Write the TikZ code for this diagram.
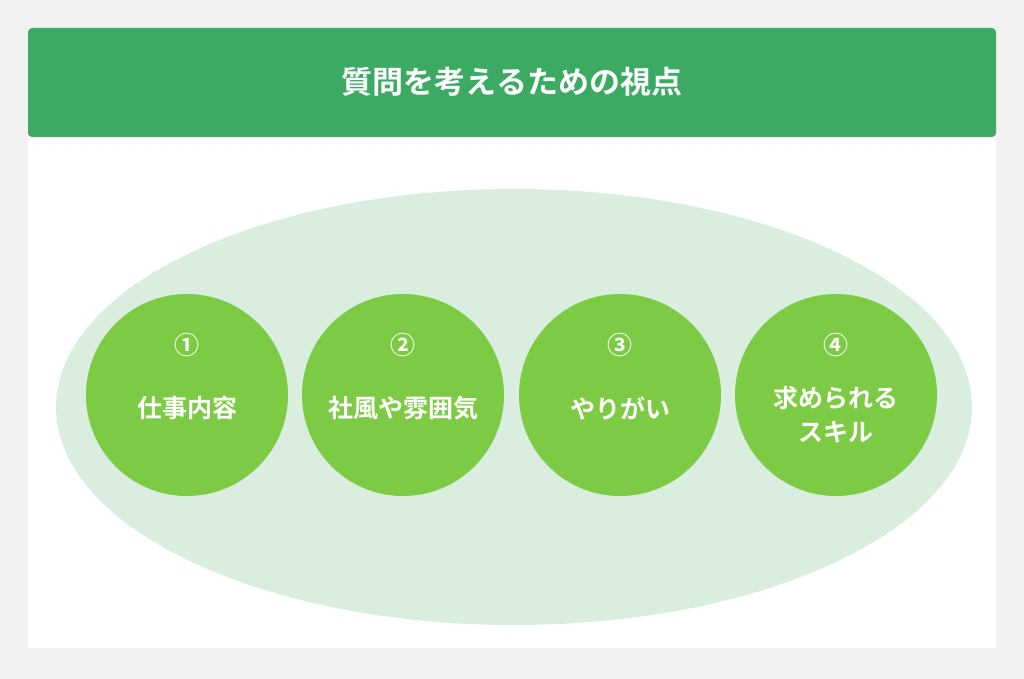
\documentclass[tikz,border=0pt]{standalone}
\usepackage{fontspec}
\setmainfont{Noto Sans CJK JP}[BoldFont={* Bold}]
\newfontfamily\jpb{Noto Sans CJK JP Bold}
\definecolor{bg}{HTML}{F2F2F2}
\definecolor{hdr}{HTML}{3DAA63}
\definecolor{ell}{HTML}{D9EEDF}
\definecolor{circ}{HTML}{7DCB45}
\tikzset{
  pt/.style={circle,fill=circ,minimum size=202pt,inner sep=0pt},
  lbl/.style={text=white,font=\jpb\fontsize{25}{34}\selectfont,align=center}
}
\begin{document}
\begin{tikzpicture}[x=1pt,y=-1pt]
\useasboundingbox (0,0) rectangle (1024,679);
\fill[bg] (0,0) rectangle (1024,679);
\fill[white] (28,28) rectangle (996,648);
\fill[hdr,rounded corners=4pt] (28,28) rectangle (996,137);
\node[text=white,font=\jpb\fontsize{31}{36}\selectfont] (title) at (512,82) {質問を考えるための視点};
\fill[ell] (514,407) ellipse [x radius=458, y radius=218];
\node[pt] (c1) at (187,395) {};
\node[pt] (c2) at (403,395) {};
\node[pt] (c3) at (620,395) {};
\node[pt] (c4) at (836,395) {};
\node[lbl] (n1) at (187,345) {①};
\node[lbl] (n2) at (403,345) {②};
\node[lbl] (n3) at (620,345) {③};
\node[lbl] (n4) at (836,345) {④};
\node[lbl] (t1) at (187,408) {仕事内容};
\node[lbl] (t2) at (403,408) {社風や雰囲気};
\node[lbl] (t3) at (620,408) {やりがい};
\node[lbl] (t4) at (836,415) {求められる\\スキル};
\end{tikzpicture}
\end{document}
